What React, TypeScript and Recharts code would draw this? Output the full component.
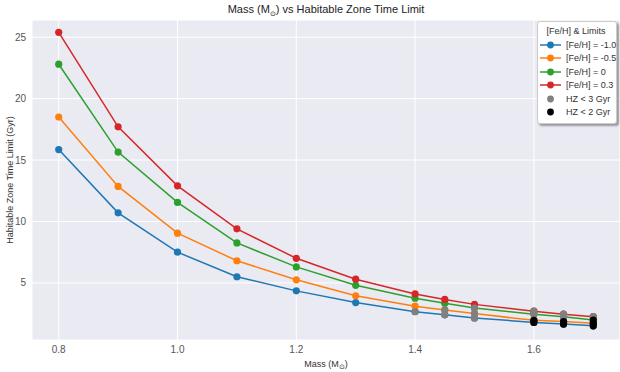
import React from "react";
import {
  ComposedChart,
  Line,
  Scatter,
  XAxis,
  YAxis,
  CartesianGrid,
} from "recharts";

// Stellar mass (solar masses)
const masses = [0.8, 0.9, 1.0, 1.1, 1.2, 1.3, 1.4, 1.45, 1.5, 1.6, 1.65, 1.7];

// Habitable zone time limit (Gyr) per metallicity
const feHMinus10 = [15.85, 10.7, 7.5, 5.5, 4.35, 3.4, 2.65, 2.4, 2.15, 1.78, 1.65, 1.5];
const feHMinus05 = [18.5, 12.85, 9.05, 6.8, 5.25, 3.95, 3.1, 2.8, 2.5, 1.95, 1.85, 1.72];
const feH00 = [22.8, 15.65, 11.55, 8.25, 6.3, 4.8, 3.75, 3.35, 2.95, 2.45, 2.25, 1.98];
const feH03 = [25.4, 17.7, 12.9, 9.4, 7.0, 5.3, 4.1, 3.65, 3.25, 2.7, 2.45, 2.25];

const xTicks = [0.8, 1.0, 1.2, 1.4, 1.6];
const yTicks = [5, 10, 15, 20, 25];

const seriesList = [
  { key: "m10", name: "[Fe/H] = -1.0", color: "#1f77b4", values: feHMinus10 },
  { key: "m05", name: "[Fe/H] = -0.5", color: "#ff7f0e", values: feHMinus05 },
  { key: "p00", name: "[Fe/H] = 0", color: "#2ca02c", values: feH00 },
  { key: "p03", name: "[Fe/H] = 0.3", color: "#d62728", values: feH03 },
];

const rows = masses.map((m, i) => {
  const row: any = { mass: m };
  seriesList.forEach((s) => (row[s.key] = s.values[i]));
  return row;
});

// points below the 3 Gyr and 2 Gyr limits
const under3: any[] = [];
const under2: any[] = [];
seriesList.forEach((s) =>
  s.values.forEach((v, i) => {
    if (v < 3) under3.push({ mass: masses[i], t: v });
    if (v < 2) under2.push({ mass: masses[i], t: v });
  })
);

const FONT = "'Liberation Sans', Arial, sans-serif";

const dotShape = (fill: string) => (props: any) =>
  <circle cx={props.cx} cy={props.cy} r={3.6} fill={fill} />;

const legendItems = [
  ...seriesList.map((s) => ({ name: s.name, color: s.color, line: true })),
  { name: "HZ < 3 Gyr", color: "#808080", line: false },
  { name: "HZ < 2 Gyr", color: "#000000", line: false },
];

const LegendBox = () => (
  <div
    style={{
      position: "absolute",
      top: 21,
      left: 537,
      width: 72,
      background: "#ffffff",
      border: "1px solid #cccccc",
      borderRadius: 3,
      boxShadow: "2px 2px 2px rgba(0,0,0,0.35)",
      padding: "2px 4px 4px 2px",
      fontFamily: FONT,
      fontSize: 9,
      color: "#333",
    }}
  >
    <div style={{ textAlign: "center", lineHeight: "14px" }}>[Fe/H] &amp; Limits</div>
    {legendItems.map((it) => (
      <div key={it.name} style={{ display: "flex", alignItems: "center", height: 13.5 }}>
        <svg width={22} height={10} style={{ marginRight: 4, flexShrink: 0 }}>
          {it.line && <line x1={0} y1={5} x2={21} y2={5} stroke={it.color} strokeWidth={1.5} />}
          <circle cx={10.5} cy={5} r={3.4} fill={it.color} />
        </svg>
        <span style={{ whiteSpace: "nowrap" }}>{it.name}</span>
      </div>
    ))}
  </div>
);

const XLabel = (props: any) => {
  const vb = props.viewBox;
  return (
    <text
      x={vb.x + vb.width / 2}
      y={367}
      textAnchor="middle"
      fontFamily={FONT}
      fontSize={9}
      fill="#333"
    >
      Mass (M
      <tspan dy={2} fontSize={6.5}>⊙</tspan>
      <tspan dy={-2}>)</tspan>
    </text>
  );
};

export default function App() {
  return (
    <div style={{ position: "absolute", left: 0, top: 0, width: 620, height: 372, background: "#fff" }}>
      <style>{"body{margin:0}"}</style>
      <div
        style={{
          position: "absolute",
          top: 3,
          left: 32,
          width: 588,
          textAlign: "center",
          fontFamily: FONT,
          fontSize: 11,
          color: "#222",
        }}
      >
        Mass (M<sub style={{ fontSize: 7 }}>⊙</sub>) vs Habitable Zone Time Limit
      </div>
      <ComposedChart
        width={620}
        height={372}
        data={rows}
        margin={{ top: 20, right: 0, left: 0, bottom: 0 }}
      >
        <CartesianGrid fill="#EAEAF2" stroke="#ffffff" strokeWidth={1} />
        <XAxis
          type="number"
          dataKey="mass"
          domain={[0.755, 1.745]}
          ticks={xTicks}
          tickFormatter={(v: number) => v.toFixed(1)}
          axisLine={false}
          tickLine={false}
          tickSize={4}
          tickMargin={2}
          height={32}
          tick={{ fontSize: 10, fill: "#555", fontFamily: FONT }}
          label={<XLabel />}
          allowDataOverflow
        />
        <YAxis
          type="number"
          dataKey="t"
          domain={[0.35, 26.4]}
          ticks={yTicks}
          axisLine={false}
          tickLine={false}
          tickSize={4}
          tickMargin={2}
          width={32}
          tick={{ fontSize: 10, fill: "#555", fontFamily: FONT }}
          allowDataOverflow
          label={{
            value: "Habitable Zone Time Limit (Gyr)",
            angle: -90,
            position: "insideLeft",
            offset: 10,
            style: { textAnchor: "middle", fontSize: 9, fill: "#333", fontFamily: FONT },
          }}
        />
        {seriesList.map((s) => (
          <Line
            key={s.key}
            type="linear"
            dataKey={s.key}
            name={s.name}
            stroke={s.color}
            strokeWidth={1.5}
            dot={{ r: 3.6, fill: s.color, stroke: "none" }}
            activeDot={false}
            isAnimationActive={false}
          />
        ))}
        <Scatter
          data={under3}
          name="HZ < 3 Gyr"
          shape={dotShape("#808080")}
          isAnimationActive={false}
        />
        <Scatter
          data={under2}
          name="HZ < 2 Gyr"
          shape={dotShape("#000000")}
          isAnimationActive={false}
        />
      </ComposedChart>
      <LegendBox />
    </div>
  );
}
